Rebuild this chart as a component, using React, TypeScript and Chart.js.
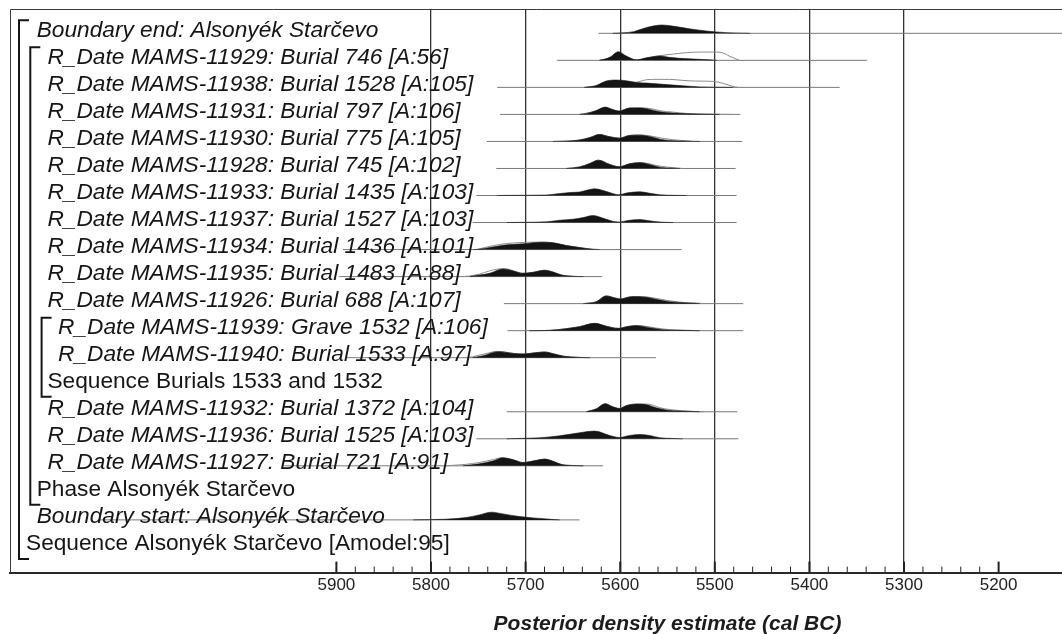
import React, { useEffect, useRef } from 'react';
import { Chart, registerables } from 'chart.js';

Chart.register(...registerables);

// ---------- axis ----------
const X_MAX = 6245; // left edge (cal BC, reversed axis)
const X_MIN = 5133; // right edge
const TICK_LABEL_YEARS = [5900, 5800, 5700, 5600, 5500, 5400, 5300, 5200];
const GRID_YEARS = [5800, 5700, 5600, 5500, 5400, 5300];
const MINOR_STEP = 20;
const AXIS_TITLE = 'Posterior density estimate (cal BC)';

// ---------- rows ----------
const LABELS = [
  'Boundary end: Alsonyék Starčevo',
  'R_Date MAMS-11929: Burial 746 [A:56]',
  'R_Date MAMS-11938: Burial 1528 [A:105]',
  'R_Date MAMS-11931: Burial 797 [A:106]',
  'R_Date MAMS-11930: Burial 775 [A:105]',
  'R_Date MAMS-11928: Burial 745 [A:102]',
  'R_Date MAMS-11933: Burial 1435 [A:103]',
  'R_Date MAMS-11937: Burial 1527 [A:103]',
  'R_Date MAMS-11934: Burial 1436 [A:101]',
  'R_Date MAMS-11935: Burial 1483 [A:88]',
  'R_Date MAMS-11926: Burial 688 [A:107]',
  'R_Date MAMS-11939: Grave 1532 [A:106]',
  'R_Date MAMS-11940: Burial 1533 [A:97]',
  'Sequence Burials 1533 and 1532',
  'R_Date MAMS-11932: Burial 1372 [A:104]',
  'R_Date MAMS-11936: Burial 1525 [A:103]',
  'R_Date MAMS-11927: Burial 721 [A:91]',
  'Phase Alsonyék Starčevo',
  'Boundary start: Alsonyék Starčevo',
  'Sequence Alsonyék Starčevo [Amodel:95]',
];
const LEVELS = [1, 2, 2, 2, 2, 2, 2, 2, 2, 2, 2, 3, 3, 2, 2, 2, 2, 1, 1, 0];
const ITALIC = [true, true, true, true, true, true, true, true, true, true, true, true, true, false, true, true, true, false, true, false];
// brackets: [first row, last row, nesting level]
const BRACKETS = [[0, 19, 0], [1, 17, 1], [11, 13, 2]];

// range lines under each distribution [from, to] (cal BC)
const RANGES = [
  [5623, 5100], [5667, 5339], [5730, 5368], [5727, 5473], [5741, 5471],
  [5731, 5478], [5752, 5477], [5756, 5477], [5893, 5535], [5897, 5619],
  [5723, 5470], [5719, 5470], [5889, 5562], null, [5720, 5476],
  [5752, 5475], [5955, 5618], null, [6150, 5643], null,
];

// posterior densities [year cal BC, relative density]
const POST_END = [[5608, 0], [5595, 0.6], [5586, 1.7], [5572, 5.8], [5556, 8.3], [5541, 6.7], [5527, 4.5], [5509, 2.3], [5488, 0.7], [5463, 0]];
const POST_11929 = [[5622, 0], [5611, 3], [5602, 8.7], [5594, 4.5], [5583, 0.5], [5572, 2.5], [5558, 4.3], [5548, 3], [5537, 2], [5516, 1], [5502, 0.3], [5498, 0]];
const POST_11938 = [[5638, 0], [5625, 2], [5615, 6.3], [5604, 7.3], [5594, 6.7], [5583, 5], [5572, 4.3], [5558, 3.3], [5544, 2.3], [5530, 1.3], [5516, 0.5], [5502, 0.2], [5481, 0]];
const POST_11931 = [[5643, 0], [5636, 0.7], [5625, 4], [5616, 7.3], [5608, 5], [5601, 3.3], [5590, 6.3], [5579, 6.3], [5569, 5], [5558, 2.7], [5544, 1.3], [5530, 0.7], [5509, 0.2], [5495, 0]];
const POST_11930 = [[5671, 0], [5657, 0.3], [5643, 1.5], [5632, 4], [5622, 7], [5611, 4.7], [5601, 3.3], [5590, 6], [5579, 6.3], [5569, 5], [5558, 2.3], [5548, 1], [5530, 0.3], [5516, 0]];
const POST_11928 = [[5657, 0], [5643, 1.5], [5632, 5], [5623, 8.3], [5611, 4], [5601, 1.7], [5590, 4.7], [5579, 5.7], [5569, 4], [5558, 1.3], [5544, 0.3], [5537, 0]];
const POST_11933 = [[5730, 0], [5713, 0.2], [5678, 0.5], [5668, 1.5], [5653, 3], [5643, 3.5], [5632, 6], [5627, 6.7], [5618, 5], [5608, 2], [5602, 0.7], [5592, 2.7], [5579, 3.7], [5569, 2.3], [5558, 0.7], [5544, 0.2], [5530, 0]];
const POST_11937 = [[5720, 0], [5706, 0.2], [5678, 0.7], [5664, 2.3], [5650, 3.3], [5639, 5], [5629, 7], [5618, 4.3], [5608, 1.3], [5601, 0.5], [5592, 2], [5579, 3], [5569, 1.7], [5558, 0.5], [5544, 0]];
const POST_11934 = [[5755, 0], [5749, 0.3], [5738, 2], [5720, 4.7], [5703, 5.7], [5682, 7.3], [5671, 6.7], [5657, 4], [5643, 2], [5629, 0.3], [5622, 0]];
const POST_11935 = [[5759, 0], [5749, 1.5], [5738, 3.3], [5724, 7.7], [5713, 5.7], [5703, 3.3], [5692, 4.3], [5680, 6.3], [5671, 4.5], [5662, 1.5], [5650, 0.3], [5639, 0]];
const POST_11926 = [[5639, 0], [5625, 2], [5615, 7.7], [5604, 5.3], [5600, 4.7], [5590, 6.7], [5583, 7], [5572, 6.3], [5562, 4.3], [5548, 2], [5530, 0.7], [5516, 0]];
const POST_11939 = [[5696, 0], [5675, 0.3], [5657, 2], [5643, 4], [5627, 7.3], [5615, 4.5], [5602, 2.3], [5593, 4], [5583, 5], [5569, 3], [5555, 1], [5537, 0.3], [5516, 0]];
const POST_11940 = [[5756, 0], [5745, 2], [5729, 6], [5713, 4.3], [5703, 3.7], [5689, 5], [5680, 5.7], [5671, 4], [5660, 1.5], [5643, 0.3], [5632, 0]];
const POST_11932 = [[5636, 0], [5625, 3], [5616, 8], [5608, 5], [5601, 3.3], [5593, 6.3], [5583, 7.7], [5572, 7], [5562, 4], [5551, 1.7], [5537, 0.7], [5523, 0.2], [5516, 0]];
const POST_11936 = [[5720, 0], [5710, 0.3], [5685, 1], [5664, 3], [5643, 6], [5627, 7.7], [5611, 3.3], [5601, 1.3], [5590, 3.3], [5579, 4.3], [5569, 3.3], [5558, 1], [5544, 0.3], [5534, 0]];
const POST_11927 = [[5766, 0], [5749, 2], [5734, 5], [5724, 8], [5713, 6], [5703, 3.3], [5689, 5.3], [5680, 6.7], [5671, 4.5], [5662, 1.3], [5650, 0.3], [5639, 0]];
const POST_START = [[5819, 0], [5784, 0.7], [5763, 2.3], [5749, 5], [5736, 7.7], [5724, 6], [5706, 3.3], [5692, 2], [5678, 1], [5671, 0.3], [5664, 0]];

// unmodelled likelihoods (outlines) [year cal BC, relative density]
const LIK_11929 = [[5622, 0], [5605, 0.3], [5583, 0.3], [5569, 3], [5558, 4.7], [5544, 6.3], [5530, 7.7], [5516, 8.3], [5498, 8.3], [5491, 7.3], [5484, 4], [5474, 0]];
const LIK_11938 = [[5638, 0], [5622, 1.5], [5604, 3], [5586, 4.5], [5579, 6], [5572, 7.7], [5562, 8], [5548, 8], [5534, 7], [5520, 6.3], [5502, 6], [5491, 4], [5481, 1], [5475, 0]];
const LIK_11931 = [[5643, 0], [5625, 3.5], [5616, 6.5], [5608, 4.5], [5601, 3.3], [5590, 6.5], [5579, 6.7], [5567, 5.7], [5558, 3.7], [5544, 2.3], [5530, 1], [5509, 0.3], [5481, 0]];
const LIK_11930 = [[5671, 0], [5643, 1.3], [5632, 3.7], [5622, 6.7], [5611, 4.7], [5601, 3.3], [5590, 6], [5579, 6.5], [5572, 6], [5565, 5], [5556, 3.3], [5544, 1.7], [5530, 0.7], [5523, 0]];
const LIK_11928 = [[5657, 0], [5643, 1.5], [5632, 5], [5623, 8.3], [5611, 4], [5601, 1.7], [5590, 4.7], [5579, 6], [5572, 5.3], [5562, 3], [5551, 1.5], [5541, 0.5], [5534, 0]];
const LIK_11934 = [[5752, 0], [5734, 4], [5720, 6], [5706, 7], [5696, 7.3], [5682, 7.5], [5671, 6.8], [5657, 4], [5643, 2], [5629, 0.3], [5622, 0]];
const LIK_11935 = [[5766, 0], [5759, 0.7], [5749, 2.5], [5738, 5.7], [5727, 7.7], [5720, 7.7], [5713, 5.7], [5703, 3.3], [5692, 4.3], [5680, 6.3], [5671, 4.5], [5662, 1.5], [5650, 0.3], [5639, 0]];
const LIK_11926 = [[5639, 0], [5625, 2], [5615, 7.7], [5604, 5.3], [5600, 4.7], [5590, 6.7], [5583, 7.2], [5572, 6.7], [5562, 5.3], [5551, 3.3], [5537, 1.5], [5519, 0.5], [5509, 0]];
const LIK_11939 = [[5696, 0], [5675, 0.3], [5657, 2], [5643, 4], [5627, 7.3], [5615, 4.5], [5602, 2.3], [5593, 4], [5583, 5.2], [5576, 4.8], [5562, 2.6], [5548, 1.1], [5530, 0.4], [5516, 0]];
const LIK_11940 = [[5763, 0], [5756, 1], [5749, 2.5], [5738, 5], [5731, 6.3], [5724, 6], [5713, 4.3], [5703, 3.7], [5689, 5], [5680, 5.7], [5671, 4], [5660, 1.5], [5643, 0.3], [5632, 0]];
const LIK_11932 = [[5636, 0], [5625, 3], [5616, 8], [5608, 5], [5601, 3.3], [5593, 6.3], [5583, 7.7], [5572, 7.7], [5565, 6.5], [5558, 4], [5548, 2.3], [5534, 1], [5521, 0.3], [5512, 0]];
const LIK_11927 = [[5784, 0], [5777, 0.5], [5763, 1.5], [5749, 3.3], [5734, 6.3], [5726, 8], [5713, 6], [5703, 3.3], [5689, 5.3], [5680, 6.7], [5671, 4.5], [5662, 1.3], [5650, 0.3], [5639, 0]];

const POSTERIORS = [
  POST_END, POST_11929, POST_11938, POST_11931, POST_11930, POST_11928, POST_11933, POST_11937,
  POST_11934, POST_11935, POST_11926, POST_11939, POST_11940, null, POST_11932, POST_11936,
  POST_11927, null, POST_START, null,
];
const LIKELIHOODS = [
  null, LIK_11929, LIK_11938, LIK_11931, LIK_11930, LIK_11928, null, null,
  LIK_11934, LIK_11935, LIK_11926, LIK_11939, LIK_11940, null, LIK_11932, null,
  LIK_11927, null, null, null,
];

const DENSITY_PER_ROW = 27; // density units per row height
const FONT = '"Liberation Sans", Arial, Helvetica, sans-serif';

function toPoints(arr: number[][], row: number) {
  return arr.map(([yr, d]) => ({ x: yr, y: row - d / DENSITY_PER_ROW }));
}

const overlayPlugin = {
  id: 'oxcalOverlay',
  afterDatasetsDraw(chart: any) {
    const { ctx, chartArea, scales } = chart;
    const xs = scales.x;
    const ys = scales.y;
    ctx.save();
    // frame (top + left)
    ctx.strokeStyle = '#3c3c3c';
    ctx.lineWidth = 1;
    ctx.beginPath();
    ctx.moveTo(chartArea.left + 0.5, chartArea.bottom);
    ctx.lineTo(chartArea.left + 0.5, chartArea.top + 0.5);
    ctx.lineTo(chartArea.right, chartArea.top + 0.5);
    ctx.stroke();

    // inward ticks on the axis
    ctx.strokeStyle = '#222';
    const first = TICK_LABEL_YEARS[0];
    const last = TICK_LABEL_YEARS[TICK_LABEL_YEARS.length - 1];
    for (let v = first; v >= last; v -= MINOR_STEP) {
      const major = v % 100 === 0;
      const px = xs.getPixelForValue(v);
      ctx.lineWidth = major ? 2 : 1;
      ctx.beginPath();
      ctx.moveTo(px, chartArea.bottom);
      ctx.lineTo(px, chartArea.bottom - (major ? 11 : 6));
      ctx.stroke();
    }

    // axis title, centred on the labelled range
    ctx.fillStyle = '#1c1c1c';
    ctx.font = `italic bold 21px ${FONT}`;
    ctx.textAlign = 'center';
    ctx.textBaseline = 'alphabetic';
    ctx.fillText(AXIS_TITLE, (xs.getPixelForValue(first) + xs.getPixelForValue(last)) / 2, chartArea.bottom + 57);

    // labels
    ctx.fillStyle = '#151515';
    ctx.textAlign = 'left';
    LABELS.forEach((t, i) => {
      ctx.font = `${ITALIC[i] ? 'italic ' : ''}22.7px ${FONT}`;
      const y = ys.getPixelForValue(i) + 3.5;
      ctx.fillText(t, 26 + LEVELS[i] * 10.7, y);
    });

    // brackets
    ctx.strokeStyle = '#151515';
    ctx.lineWidth = 2;
    BRACKETS.forEach(([a, b, lvl]) => {
      const x = 19 + lvl * 11.3;
      const top = ys.getPixelForValue(a) + 3.5 - 16.5;
      const bot = ys.getPixelForValue(b) + 3.5 + 8.5;
      ctx.beginPath();
      ctx.moveTo(x + 10, top);
      ctx.lineTo(x, top);
      ctx.lineTo(x, bot);
      ctx.lineTo(x + 10, bot);
      ctx.stroke();
    });
    ctx.restore();
  },
};

export default function App() {
  const ref = useRef<HTMLCanvasElement | null>(null);
  useEffect(() => {
    if (!ref.current) return;
    const datasets: any[] = [];
    LABELS.forEach((_, row) => {
      const r = RANGES[row];
      if (r) {
        datasets.push({
          data: [{ x: r[0], y: row }, { x: r[1], y: row }],
          borderColor: '#7a7a7a',
          borderWidth: 1,
          pointRadius: 0,
          fill: false,
          order: 3,
        });
      }
      const lk = LIKELIHOODS[row];
      if (lk) {
        datasets.push({
          data: toPoints(lk, row),
          borderColor: '#8c8c8c',
          borderWidth: 1,
          pointRadius: 0,
          fill: false,
          cubicInterpolationMode: 'monotone',
          order: 2,
        });
      }
      const p = POSTERIORS[row];
      if (p) {
        datasets.push({
          data: toPoints(p, row),
          borderColor: '#141414',
          backgroundColor: '#141414',
          borderWidth: 0.6,
          pointRadius: 0,
          fill: { value: row },
          cubicInterpolationMode: 'monotone',
          order: 1,
        });
      }
    });

    const chart = new Chart(ref.current, {
      type: 'line',
      data: { datasets },
      options: {
        animation: false,
        responsive: false,
        devicePixelRatio: 1,
        events: [],
        layout: { padding: { left: 10, top: 9, right: 0, bottom: 35 } },
        plugins: { legend: { display: false }, tooltip: { enabled: false } },
        scales: {
          x: {
            type: 'linear',
            reverse: true,
            min: X_MIN,
            max: X_MAX,
            afterBuildTicks: (scale: any) => {
              const t: any[] = [];
              for (let v = TICK_LABEL_YEARS[0]; v >= TICK_LABEL_YEARS[TICK_LABEL_YEARS.length - 1]; v -= MINOR_STEP) t.push({ value: v });
              scale.ticks = t;
            },
            grid: {
              drawTicks: false,
              lineWidth: 1.3,
              color: (c: any) => (c.tick && GRID_YEARS.includes(c.tick.value) ? '#333' : 'rgba(0,0,0,0)'),
            },
            border: { display: true, color: '#2a2a2a', width: 2 },
            ticks: {
              autoSkip: false,
              maxRotation: 0,
              padding: 3,
              color: '#222',
              font: { family: FONT, size: 17 },
              callback: (v: any) => (TICK_LABEL_YEARS.includes(Number(v)) ? String(v) : ''),
            },
            title: { display: false },
          },
          y: {
            type: 'linear',
            display: false,
            reverse: true,
            min: -0.9,
            max: 19.95,
          },
        },
      },
      plugins: [overlayPlugin],
    });
    return () => chart.destroy();
  }, []);

  return (
    <div style={{ position: 'absolute', left: 0, top: 0, width: 1062, height: 634, background: '#fff' }}>
      <canvas ref={ref} width={1062} height={634} style={{ display: 'block' }} />
    </div>
  );
}
